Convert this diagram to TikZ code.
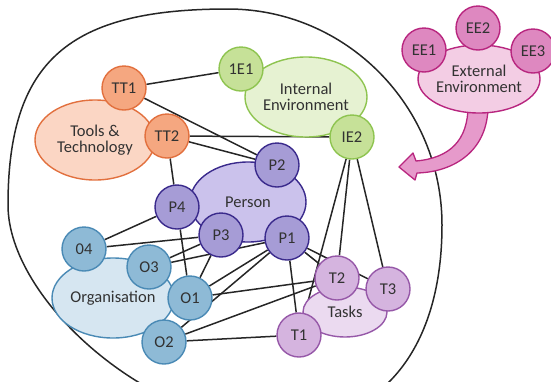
\documentclass[tikz,border=0pt]{standalone}
\usepackage{fontspec}
\setmainfont{Carlito}
\usetikzlibrary{shapes.geometric,backgrounds}
\definecolor{txt}{RGB}{50,50,50}
\definecolor{orF}{RGB}{245,167,128}
\definecolor{orD}{RGB}{226,112,62}
\definecolor{orL}{RGB}{251,214,196}
\definecolor{grF}{RGB}{198,225,152}
\definecolor{grD}{RGB}{142,196,80}
\definecolor{grL}{RGB}{230,242,210}
\definecolor{puF}{RGB}{166,156,214}
\definecolor{puD}{RGB}{58,42,140}
\definecolor{puL}{RGB}{203,194,236}
\definecolor{blF}{RGB}{142,186,214}
\definecolor{blD}{RGB}{74,138,181}
\definecolor{blL}{RGB}{214,230,241}
\definecolor{taF}{RGB}{213,180,223}
\definecolor{taD}{RGB}{150,88,168}
\definecolor{taL}{RGB}{235,218,240}
\definecolor{exF}{RGB}{222,136,192}
\definecolor{exD}{RGB}{184,38,127}
\definecolor{exL}{RGB}{243,205,228}
\definecolor{arF}{RGB}{230,154,203}
\newcommand\lblfont{\fontsize{16.5}{16.5}\selectfont}
\tikzset{
  bub/.style={circle, minimum size=44pt, inner sep=0pt, line width=1.4pt, font=\lblfont, text=txt},
  grp/.style={ellipse, inner sep=0pt, line width=1.4pt, align=center, font=\lblfont, text=txt},
  conn/.style={line width=1.5pt, draw=black!85},
  orB/.style={bub, fill=orF, draw=orD}, orG/.style={grp, fill=orL, draw=orD},
  grB/.style={bub, fill=grF, draw=grD}, grG/.style={grp, fill=grL, draw=grD},
  puB/.style={bub, fill=puF, draw=puD}, puG/.style={grp, fill=puL, draw=puD},
  blB/.style={bub, fill=blF, draw=blD}, blG/.style={grp, fill=blL, draw=blD},
  taB/.style={bub, fill=taF, draw=taD}, taG/.style={grp, fill=taL, draw=taD},
  exB/.style={bub, fill=exF, draw=exD}, exG/.style={grp, fill=exL, draw=exD},
  arrowst/.style={fill=arF, draw=exD, line width=1.3pt, line join=round},
  boundary/.style={line width=1.5pt, draw=black!85}
}
\begin{document}
\begin{tikzpicture}[x=1pt,y=-1pt]
\useasboundingbox (0,0) rectangle (551,381);
% group ellipses
\node[orG, minimum width=120pt, minimum height=80pt] (tools) at (95,140) {Tools \&\\Technology};
\node[grG, minimum width=122pt, minimum height=80pt] (internal) at (306,97) {Internal\\Environment};
\node[puG, minimum width=116pt, minimum height=80pt] (person) at (248,202) {Person};
\node[blG, minimum width=122pt, minimum height=80pt] (org) at (113,298) {Organisation};
\node[taG, minimum width=84pt, minimum height=50pt] (tasks) at (345,312) {Tasks};
% external arrow
\filldraw[arrowst] (468,106) .. controls (468,140) and (450,158) .. (416,161)
  -- (413,153) -- (399,167) -- (415,180) -- (417,173)
  .. controls (455,172) and (488,150) .. (488,106) -- cycle;
\node[exG, minimum width=122pt, minimum height=68pt] (external) at (479,79) {External\\Environment};
% circles
\node[orB] (tt1) at (124,88) {TT1};
\node[orB] (tt2) at (167,136) {TT2};
\node[grB] (ie1) at (241,69) {1E1};
\node[grB] (ie2) at (352,137) {IE2};
\node[exB] (ee1) at (424,50) {EE1};
\node[exB] (ee2) at (478,28) {EE2};
\node[exB] (ee3) at (533,51) {EE3};
\node[puB] (p1) at (287,238) {P1};
\node[puB] (p2) at (277,165) {P2};
\node[puB] (p3) at (221,235) {P3};
\node[puB] (p4) at (177,207) {P4};
\node[blB] (o1) at (190,298) {O1};
\node[blB] (o2) at (164,342) {O2};
\node[blB] (o3) at (149,267) {O3};
\node[blB] (o4) at (84,249) {04};
\node[taB] (t1) at (299,335) {T1};
\node[taB] (t2) at (337,278) {T2};
\node[taB] (t3) at (388,289) {T3};
\begin{pgfonlayer}{background}
\draw[boundary] (228,9) .. controls (346,9) and (442,106) .. (442,225)
  .. controls (442,345) and (385,425) .. (275,425)
  .. controls (150,425) and (8,300) .. (8,205)
  .. controls (8,60) and (70,9) .. (228,9) -- cycle;
\draw[conn] (tt1) -- (ie1);
\draw[conn] (tt1) -- (p2);
\draw[conn] (tt2) -- (ie2);
\draw[conn] (tt2) -- (p2);
\draw[conn] (tt2) -- (p4);
\draw[conn] (p4) -- (o4);
\draw[conn] (p3) -- (o4);
\draw[conn] (o3) -- (p3);
\draw[conn] (o3) -- (p1);
\draw[conn] (p4) -- (o1);
\draw[conn] (p3) -- (o1);
\draw[conn] (o1) -- (p1);
\draw[conn] (o1) -- (t2);
\draw[conn] (o2) -- (p1);
\draw[conn] (o2) -- (t2);
\draw[conn] (o2) -- (t1);
\draw[conn] (p1) -- (t1);
\draw[conn] (p1) -- (t2);
\draw[conn] (p1) -- (t3);
\draw[conn] (ie2) -- (t1);
\draw[conn] (ie2) -- (t2);
\draw[conn] (ie2) -- (t3);
\end{pgfonlayer}
\end{tikzpicture}
\end{document}
